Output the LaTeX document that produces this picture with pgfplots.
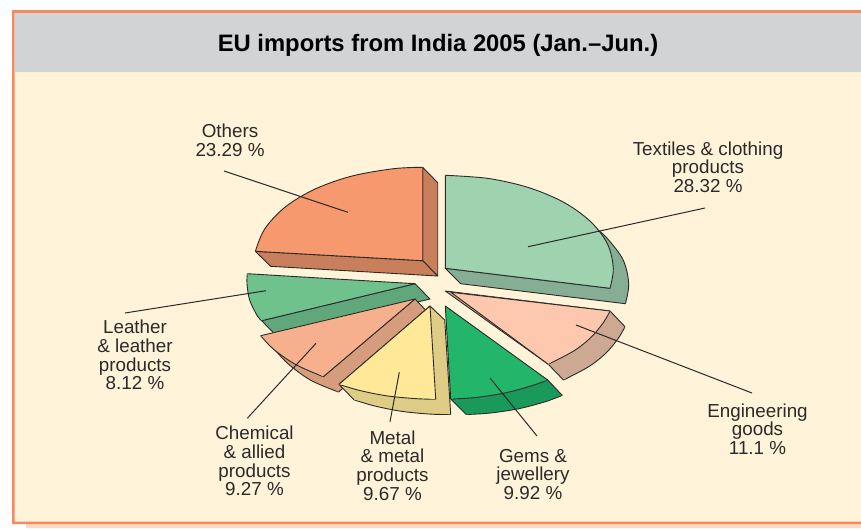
\documentclass[border=0pt]{standalone}
\usepackage{fontspec}
\setmainfont{Liberation Sans}
\usepackage{pgfplots}
\pgfplotsset{compat=1.18}

\definecolor{bg}{HTML}{FFF4D9}
\definecolor{hdr}{HTML}{D2D3D5}
\definecolor{frame}{HTML}{F58A5E}
\definecolor{strip}{HTML}{FBD9C4}
\definecolor{ink}{HTML}{2B2A29}
\definecolor{txTop}{HTML}{9FD2AF}\definecolor{txSide}{HTML}{86AE94}
\definecolor{enTop}{HTML}{FDC8AE}\definecolor{enSide}{HTML}{CDA892}
\definecolor{geTop}{HTML}{23B56A}\definecolor{geSide}{HTML}{1A9A5A}
\definecolor{meTop}{HTML}{FFE999}\definecolor{meSide}{HTML}{DFCC87}
\definecolor{chTop}{HTML}{F6B08D}\definecolor{chSide}{HTML}{D59C7E}
\definecolor{leTop}{HTML}{70C28D}\definecolor{leSide}{HTML}{60A87C}
\definecolor{otTop}{HTML}{F6996E}\definecolor{otSide}{HTML}{C97F5C}

\pgfplotsset{
  arc/.style={smooth,tension=0.55,no marks,draw=ink,line width=0.9pt,line join=round,fill=#1},
  flat/.style={sharp plot,no marks,draw=ink,line width=0.9pt,line join=round,fill=#1},
  panel/.style={sharp plot,no marks,draw=none,fill=#1},
  leader/.style={no marks,draw=ink,line width=1pt},
}
\newcommand{\lab}{\fontsize{18.8}{18.7}\selectfont}
% one face of a slice: colour, curved edge, straight edges
\newcommand{\face}[3]{%
  \addplot[panel=#1] coordinates {#2 #3};
  \addplot[arc=#1] coordinates {#2};
  \addplot[flat=#1] coordinates {#3};
}

\begin{document}
\begin{tikzpicture}
\begin{axis}[
  scale only axis, width=861pt, height=528pt,
  xmin=0, xmax=861, ymin=0, ymax=528, y dir=reverse,
  hide axis,
]
% frame and panels
\addplot[panel=white] coordinates {(0,0) (861,0) (861,528) (0,528) (0,0)};
\addplot[panel=strip] coordinates {(26,524) (861,524) (861,528) (26,528) (26,524)};
\addplot[panel=frame] coordinates {(12,10) (861,10) (861,524) (12,524) (12,10)};
\addplot[panel=bg] coordinates {(14.7,13) (861,13) (861,521.7) (14.7,521.7) (14.7,13)};
\addplot[panel=hdr] coordinates {(14.7,13) (861,13) (861,72) (14.7,72) (14.7,13)};

% Others
\addplot[flat=otSide] coordinates {(422.7,167.3) (437.7,182.7) (437.7,276) (422.7,260.7) (422.7,167.3)};
\addplot[flat=otSide] coordinates {(255.3,251.3) (270.7,266.3) (437.7,276) (422.7,260.7) (255.3,251.3)};
\face{otTop}{(255.3,251.3) (264.8,228.8) (285.1,207.1) (314.7,189.2) (351.7,176.1) (393.5,168.7) (422.7,167.3)}{(422.7,167.3) (422.7,260.7) (255.3,251.3)}

% Textiles
\face{txSide}{(625.4,303.7) (628.7,283.7) (623,259.6) (606.2,237.2) (594.9,227.7)}{(594.9,227.7) (610,288.3) (445.3,268.3) (460.7,283.7) (625.4,303.7)}
\face{txTop}{(445.3,175.3) (488.8,178.5) (529.3,187.8) (564.1,202.5) (590.8,221.8) (607.6,244.2) (613.3,268.3) (610,288.3)}{(610,288.3) (445.3,268.3) (445.3,175.3)}

% Engineering goods
\face{enSide}{(625,326.7) (618.2,338.5) (605.8,353.2) (589,366.5) (563.5,380)}{(563.5,380) (548.3,364.3) (445.3,291) (610,311) (625,326.7)}
\face{enTop}{(610,311) (603.2,322.8) (590.8,337.5) (574,350.8) (548.3,364.3)}{(548.3,364.3) (451,292.3) (610,311)}

% Leather
\addplot[flat=leSide] coordinates {(415,283.7) (430,299) (276.7,336.2) (261.7,320.7) (415,283.7)};
\face{leTop}{(247.3,273.7) (247,283.7) (249.6,299.9) (257.1,315.5) (261.7,320.7)}{(261.7,320.7) (415,283.7) (247.3,273.7)}

% Chemical
\face{chSide}{(275.7,350.7) (289.1,364.7) (311.2,380.5) (338.5,392)}{(338.5,392) (430,314.7) (415,299) (323.3,376.7) (275.7,350.7)}
\face{chTop}{(260.7,335.7) (274.1,349.7) (296.2,364.8) (323.3,376.7)}{(323.3,376.7) (415,299) (260.7,335.7)}

% Metal
\face{meSide}{(450.7,414.5) (430.4,414.1) (401.5,411.3) (374,405.8) (354,399.8)}{(354,399.8) (339,384.3) (430,306) (444.7,320) (450.7,414.5)}
\face{meTop}{(339,384.3) (359,390.3) (386.5,395.8) (415.4,398.6) (435.7,399.3)}{(435.7,399.3) (430,306) (339,384.3)}

% Gems
\face{geSide}{(466.2,414.5) (489.5,413.1) (517.8,408.9) (544.3,402) (562.3,395.4)}{(562.3,395.4) (547.7,380) (450.7,399) (466.2,414.5)}
\face{geTop}{(450.7,399) (474.5,397.6) (502.8,393.4) (529.3,386.5) (547.7,380)}{(547.7,380) (445.3,306) (450.7,399)}

% leaders
\addplot[leader] coordinates {(224,171) (348,212.3)};
\addplot[leader] coordinates {(125,313) (266,290.7)};
\addplot[leader] coordinates {(705,208) (528,246.7)};
\addplot[leader] coordinates {(752,393) (576,325)};
\addplot[leader] coordinates {(537,436) (490,378)};
\addplot[leader] coordinates {(390,421.7) (399.3,372.3)};
\addplot[leader] coordinates {(247.3,418.3) (316,343.3)};

% text
\node[text=black,font=\fontsize{23.8}{26}\selectfont\bfseries] at (axis cs:438,45) {EU imports from India 2005 (Jan.–Jun.)};
\tikzset{pl/.style={text=ink,align=center,font=\lab,inner sep=0pt}}
\node[pl] at (axis cs:230,140) {Others\\23.29 \%};
\node[pl] at (axis cs:708,167) {Textiles \& clothing\\products\\28.32 \%};
\node[pl] at (axis cs:757.5,429) {Engineering\\goods\\11.1 \%};
\node[pl] at (axis cs:533,474.3) {Gems \&\\jewellery\\9.92 \%};
\node[pl] at (axis cs:392.5,465.5) {Metal\\\& metal\\products\\9.67 \%};
\node[pl] at (axis cs:254.5,461) {Chemical\\\& allied\\products\\9.27 \%};
\node[pl] at (axis cs:135,355) {Leather\\\& leather\\products\\8.12 \%};
\end{axis}
\end{tikzpicture}
\end{document}
